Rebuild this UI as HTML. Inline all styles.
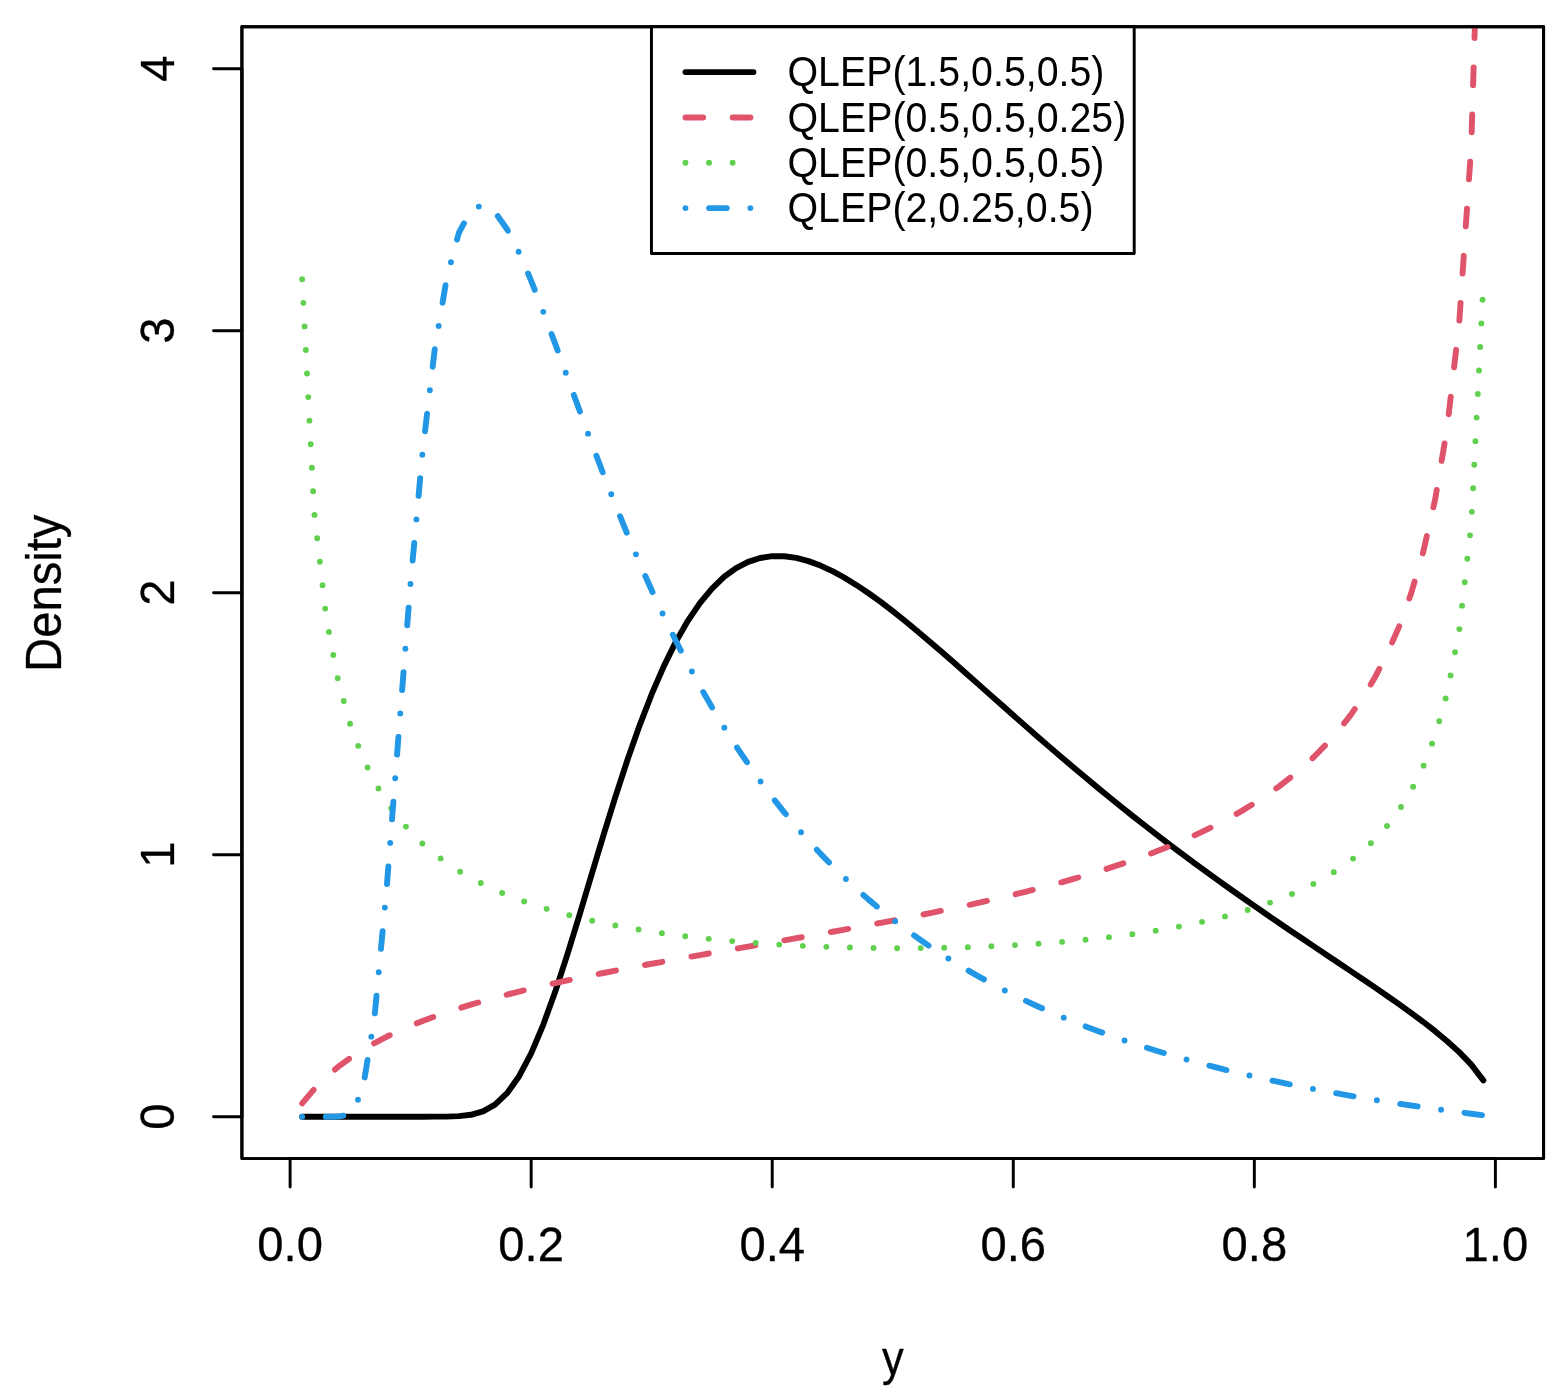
<!DOCTYPE html>
<html lang="en">
<head>
<meta charset="utf-8">
<title>QLEP density</title>
<style>
html,body{margin:0;padding:0;background:#fff;}
body{width:1568px;height:1392px;overflow:hidden;font-family:"Liberation Sans",Arial,Helvetica,sans-serif;}
svg{display:block;}
</style>
</head>
<body>
<svg width="1568" height="1392" viewBox="0 0 1568 1392">
<rect width="1568" height="1392" fill="#fff"/>
<defs><clipPath id="pc"><rect x="241.90" y="26.75" width="1301.70" height="1131.85"/></clipPath></defs>
<polyline clip-path="url(#pc)" points="302.16,1116.68 314.22,1116.68 326.27,1116.68 338.32,1116.68 350.38,1116.68 362.43,1116.68 374.48,1116.68 386.53,1116.68 398.59,1116.68 410.64,1116.68 422.69,1116.68 434.74,1116.67 446.80,1116.58 458.85,1116.17 470.90,1114.80 482.96,1111.41 495.01,1104.65 507.06,1093.22 519.11,1076.22 531.17,1053.32 543.22,1024.82 555.27,991.55 567.32,954.65 579.38,915.43 591.43,875.20 603.48,835.16 615.54,796.33 627.59,759.52 639.64,725.33 651.69,694.19 663.75,666.34 675.80,641.88 687.85,620.83 699.91,603.10 711.96,588.54 724.01,576.96 736.06,568.17 748.12,561.92 760.17,557.99 772.22,556.17 784.27,556.21 796.33,557.92 808.38,561.11 820.43,565.58 832.49,571.18 844.54,577.75 856.59,585.15 868.64,593.26 880.70,601.96 892.75,611.16 904.80,620.77 916.86,630.70 928.91,640.90 940.96,651.29 953.01,661.83 965.07,672.47 977.12,683.16 989.17,693.88 1001.22,704.58 1013.28,715.26 1025.33,725.88 1037.38,736.43 1049.44,746.89 1061.49,757.24 1073.54,767.49 1085.59,777.61 1097.65,787.61 1109.70,797.49 1121.75,807.22 1133.81,816.83 1145.86,826.30 1157.91,835.64 1169.96,844.84 1182.02,853.92 1194.07,862.87 1206.12,871.70 1218.17,880.41 1230.23,889.02 1242.28,897.53 1254.33,905.93 1266.39,914.26 1278.44,922.51 1290.49,930.69 1302.54,938.82 1314.60,946.91 1326.65,954.97 1338.70,963.03 1350.76,971.10 1362.81,979.22 1374.86,987.41 1386.91,995.70 1398.97,1004.15 1411.02,1012.82 1423.07,1021.79 1435.12,1031.19 1447.18,1041.21 1459.23,1052.16 1471.28,1064.67 1483.34,1080.36" fill="none" stroke="#000000" stroke-width="5.90" stroke-linecap="round" stroke-linejoin="round"/>
<g fill="none" stroke="#000" stroke-width="2.95" stroke-linecap="round" stroke-linejoin="round">
<path d="M290.11 1158.60H1495.39"/>
<path d="M290.11 1158.60v28.32"/>
<path d="M531.17 1158.60v28.32"/>
<path d="M772.22 1158.60v28.32"/>
<path d="M1013.28 1158.60v28.32"/>
<path d="M1254.33 1158.60v28.32"/>
<path d="M1495.39 1158.60v28.32"/>
<path d="M241.90 1116.68V68.67"/>
<path d="M241.90 1116.68h-28.32"/>
<path d="M241.90 854.68h-28.32"/>
<path d="M241.90 592.67h-28.32"/>
<path d="M241.90 330.67h-28.32"/>
<path d="M241.90 68.67h-28.32"/>
<rect x="241.90" y="26.75" width="1301.70" height="1131.85"/>
</g>
<g font-family="'Liberation Sans', Arial, Helvetica, sans-serif" font-size="47.21" fill="#000" stroke="#000" stroke-width="0.3" stroke-linejoin="round" text-anchor="middle">
<text x="290.11" y="1261.30">0.0</text>
<text x="531.17" y="1261.30">0.2</text>
<text x="772.22" y="1261.30">0.4</text>
<text x="1013.28" y="1261.30">0.6</text>
<text x="1254.33" y="1261.30">0.8</text>
<text x="1495.39" y="1261.30">1.0</text>
<text transform="translate(173.95 1116.68) rotate(-90) scale(1 1.02)">0</text>
<text transform="translate(173.95 854.68) rotate(-90) scale(1 1.02)">1</text>
<text transform="translate(173.95 592.67) rotate(-90) scale(1 1.02)">2</text>
<text transform="translate(173.95 330.67) rotate(-90) scale(1 1.02)">3</text>
<text transform="translate(173.95 68.67) rotate(-90) scale(1 1.02)">4</text>
<text transform="translate(892.75 1374.50) scale(0.92 1)">y</text>
<text transform="translate(60.70 593.27) rotate(-90) scale(1 1.04)">Density</text>
</g>
<polyline clip-path="url(#pc)" points="302.16,1103.32 314.22,1089.02 326.27,1076.96 338.32,1066.70 350.38,1057.82 362.43,1050.00 374.48,1043.04 386.53,1036.76 398.59,1031.05 410.64,1025.81 422.69,1020.98 434.74,1016.49 446.80,1012.30 458.85,1008.36 470.90,1004.65 482.96,1001.14 495.01,997.80 507.06,994.61 519.11,991.56 531.17,988.63 543.22,985.82 555.27,983.09 567.32,980.46 579.38,977.90 591.43,975.41 603.48,972.99 615.54,970.61 627.59,968.29 639.64,966.01 651.69,963.76 663.75,961.55 675.80,959.36 687.85,957.20 699.91,955.06 711.96,952.93 724.01,950.82 736.06,948.71 748.12,946.61 760.17,944.51 772.22,942.40 784.27,940.29 796.33,938.18 808.38,936.05 820.43,933.90 832.49,931.74 844.54,929.56 856.59,927.35 868.64,925.12 880.70,922.85 892.75,920.55 904.80,918.22 916.86,915.84 928.91,913.41 940.96,910.93 953.01,908.40 965.07,905.81 977.12,903.16 989.17,900.43 1001.22,897.64 1013.28,894.76 1025.33,891.79 1037.38,888.73 1049.44,885.57 1061.49,882.29 1073.54,878.90 1085.59,875.38 1097.65,871.72 1109.70,867.90 1121.75,863.92 1133.81,859.76 1145.86,855.41 1157.91,850.83 1169.96,846.03 1182.02,840.96 1194.07,835.60 1206.12,829.93 1218.17,823.91 1230.23,817.49 1242.28,810.63 1254.33,803.28 1266.39,795.36 1278.44,786.80 1290.49,777.51 1302.54,767.37 1314.60,756.23 1326.65,743.93 1338.70,730.25 1350.76,714.89 1362.81,697.48 1374.86,677.52 1386.91,654.31 1398.97,626.87 1411.02,593.73 1423.07,552.59 1435.12,499.62 1447.18,427.80 1459.23,322.45 1471.28,145.53 1483.34,-254.39" fill="none" stroke="#DF536B" stroke-width="5.90" stroke-linecap="round" stroke-linejoin="round" stroke-dasharray="17.691 29.484" stroke-dashoffset="-0.000"/>
<path clip-path="url(#pc)" d="M299.21 279.31a2.95 2.95 0 1 0 5.90 0a2.95 2.95 0 1 0 -5.90 0zM300.43 302.87a2.95 2.95 0 1 0 5.90 0a2.95 2.95 0 1 0 -5.90 0zM301.65 326.42a2.95 2.95 0 1 0 5.90 0a2.95 2.95 0 1 0 -5.90 0zM302.87 349.98a2.95 2.95 0 1 0 5.90 0a2.95 2.95 0 1 0 -5.90 0zM304.09 373.53a2.95 2.95 0 1 0 5.90 0a2.95 2.95 0 1 0 -5.90 0zM305.31 397.09a2.95 2.95 0 1 0 5.90 0a2.95 2.95 0 1 0 -5.90 0zM306.53 420.65a2.95 2.95 0 1 0 5.90 0a2.95 2.95 0 1 0 -5.90 0zM307.74 444.20a2.95 2.95 0 1 0 5.90 0a2.95 2.95 0 1 0 -5.90 0zM308.96 467.76a2.95 2.95 0 1 0 5.90 0a2.95 2.95 0 1 0 -5.90 0zM310.18 491.31a2.95 2.95 0 1 0 5.90 0a2.95 2.95 0 1 0 -5.90 0zM311.56 514.86a2.95 2.95 0 1 0 5.90 0a2.95 2.95 0 1 0 -5.90 0zM314.23 538.29a2.95 2.95 0 1 0 5.90 0a2.95 2.95 0 1 0 -5.90 0zM316.91 561.73a2.95 2.95 0 1 0 5.90 0a2.95 2.95 0 1 0 -5.90 0zM319.58 585.16a2.95 2.95 0 1 0 5.90 0a2.95 2.95 0 1 0 -5.90 0zM322.25 608.60a2.95 2.95 0 1 0 5.90 0a2.95 2.95 0 1 0 -5.90 0zM325.96 631.88a2.95 2.95 0 1 0 5.90 0a2.95 2.95 0 1 0 -5.90 0zM330.36 655.05a2.95 2.95 0 1 0 5.90 0a2.95 2.95 0 1 0 -5.90 0zM334.75 678.23a2.95 2.95 0 1 0 5.90 0a2.95 2.95 0 1 0 -5.90 0zM340.79 701.02a2.95 2.95 0 1 0 5.90 0a2.95 2.95 0 1 0 -5.90 0zM347.09 723.75a2.95 2.95 0 1 0 5.90 0a2.95 2.95 0 1 0 -5.90 0zM355.29 745.86a2.95 2.95 0 1 0 5.90 0a2.95 2.95 0 1 0 -5.90 0zM364.59 767.51a2.95 2.95 0 1 0 5.90 0a2.95 2.95 0 1 0 -5.90 0zM375.51 788.39a2.95 2.95 0 1 0 5.90 0a2.95 2.95 0 1 0 -5.90 0zM388.30 808.18a2.95 2.95 0 1 0 5.90 0a2.95 2.95 0 1 0 -5.90 0zM402.99 826.61a2.95 2.95 0 1 0 5.90 0a2.95 2.95 0 1 0 -5.90 0zM419.43 843.50a2.95 2.95 0 1 0 5.90 0a2.95 2.95 0 1 0 -5.90 0zM437.70 858.41a2.95 2.95 0 1 0 5.90 0a2.95 2.95 0 1 0 -5.90 0zM457.21 871.64a2.95 2.95 0 1 0 5.90 0a2.95 2.95 0 1 0 -5.90 0zM477.84 883.07a2.95 2.95 0 1 0 5.90 0a2.95 2.95 0 1 0 -5.90 0zM499.25 892.94a2.95 2.95 0 1 0 5.90 0a2.95 2.95 0 1 0 -5.90 0zM521.24 901.46a2.95 2.95 0 1 0 5.90 0a2.95 2.95 0 1 0 -5.90 0zM543.65 908.83a2.95 2.95 0 1 0 5.90 0a2.95 2.95 0 1 0 -5.90 0zM566.36 915.18a2.95 2.95 0 1 0 5.90 0a2.95 2.95 0 1 0 -5.90 0zM589.29 920.68a2.95 2.95 0 1 0 5.90 0a2.95 2.95 0 1 0 -5.90 0zM612.40 925.44a2.95 2.95 0 1 0 5.90 0a2.95 2.95 0 1 0 -5.90 0zM635.62 929.56a2.95 2.95 0 1 0 5.90 0a2.95 2.95 0 1 0 -5.90 0zM658.94 933.13a2.95 2.95 0 1 0 5.90 0a2.95 2.95 0 1 0 -5.90 0zM682.32 936.21a2.95 2.95 0 1 0 5.90 0a2.95 2.95 0 1 0 -5.90 0zM705.76 938.85a2.95 2.95 0 1 0 5.90 0a2.95 2.95 0 1 0 -5.90 0zM729.24 941.11a2.95 2.95 0 1 0 5.90 0a2.95 2.95 0 1 0 -5.90 0zM752.75 943.01a2.95 2.95 0 1 0 5.90 0a2.95 2.95 0 1 0 -5.90 0zM776.28 944.59a2.95 2.95 0 1 0 5.90 0a2.95 2.95 0 1 0 -5.90 0zM799.84 945.86a2.95 2.95 0 1 0 5.90 0a2.95 2.95 0 1 0 -5.90 0zM823.40 946.84a2.95 2.95 0 1 0 5.90 0a2.95 2.95 0 1 0 -5.90 0zM846.98 947.55a2.95 2.95 0 1 0 5.90 0a2.95 2.95 0 1 0 -5.90 0zM870.56 948.00a2.95 2.95 0 1 0 5.90 0a2.95 2.95 0 1 0 -5.90 0zM894.15 948.18a2.95 2.95 0 1 0 5.90 0a2.95 2.95 0 1 0 -5.90 0zM917.74 948.10a2.95 2.95 0 1 0 5.90 0a2.95 2.95 0 1 0 -5.90 0zM941.32 947.77a2.95 2.95 0 1 0 5.90 0a2.95 2.95 0 1 0 -5.90 0zM964.90 947.17a2.95 2.95 0 1 0 5.90 0a2.95 2.95 0 1 0 -5.90 0zM988.47 946.29a2.95 2.95 0 1 0 5.90 0a2.95 2.95 0 1 0 -5.90 0zM1012.03 945.12a2.95 2.95 0 1 0 5.90 0a2.95 2.95 0 1 0 -5.90 0zM1035.57 943.65a2.95 2.95 0 1 0 5.90 0a2.95 2.95 0 1 0 -5.90 0zM1059.09 941.85a2.95 2.95 0 1 0 5.90 0a2.95 2.95 0 1 0 -5.90 0zM1082.58 939.69a2.95 2.95 0 1 0 5.90 0a2.95 2.95 0 1 0 -5.90 0zM1106.03 937.14a2.95 2.95 0 1 0 5.90 0a2.95 2.95 0 1 0 -5.90 0zM1129.42 934.14a2.95 2.95 0 1 0 5.90 0a2.95 2.95 0 1 0 -5.90 0zM1152.75 930.64a2.95 2.95 0 1 0 5.90 0a2.95 2.95 0 1 0 -5.90 0zM1175.98 926.58a2.95 2.95 0 1 0 5.90 0a2.95 2.95 0 1 0 -5.90 0zM1199.09 921.86a2.95 2.95 0 1 0 5.90 0a2.95 2.95 0 1 0 -5.90 0zM1222.03 916.39a2.95 2.95 0 1 0 5.90 0a2.95 2.95 0 1 0 -5.90 0zM1244.74 910.02a2.95 2.95 0 1 0 5.90 0a2.95 2.95 0 1 0 -5.90 0zM1267.13 902.62a2.95 2.95 0 1 0 5.90 0a2.95 2.95 0 1 0 -5.90 0zM1289.08 893.99a2.95 2.95 0 1 0 5.90 0a2.95 2.95 0 1 0 -5.90 0zM1310.40 883.92a2.95 2.95 0 1 0 5.90 0a2.95 2.95 0 1 0 -5.90 0zM1330.83 872.14a2.95 2.95 0 1 0 5.90 0a2.95 2.95 0 1 0 -5.90 0zM1350.13 858.61a2.95 2.95 0 1 0 5.90 0a2.95 2.95 0 1 0 -5.90 0zM1367.92 843.14a2.95 2.95 0 1 0 5.90 0a2.95 2.95 0 1 0 -5.90 0zM1384.07 825.97a2.95 2.95 0 1 0 5.90 0a2.95 2.95 0 1 0 -5.90 0zM1398.06 807.00a2.95 2.95 0 1 0 5.90 0a2.95 2.95 0 1 0 -5.90 0zM1410.18 786.78a2.95 2.95 0 1 0 5.90 0a2.95 2.95 0 1 0 -5.90 0zM1420.62 765.63a2.95 2.95 0 1 0 5.90 0a2.95 2.95 0 1 0 -5.90 0zM1429.11 743.63a2.95 2.95 0 1 0 5.90 0a2.95 2.95 0 1 0 -5.90 0zM1436.28 721.18a2.95 2.95 0 1 0 5.90 0a2.95 2.95 0 1 0 -5.90 0zM1442.71 698.49a2.95 2.95 0 1 0 5.90 0a2.95 2.95 0 1 0 -5.90 0zM1447.62 675.43a2.95 2.95 0 1 0 5.90 0a2.95 2.95 0 1 0 -5.90 0zM1452.07 652.27a2.95 2.95 0 1 0 5.90 0a2.95 2.95 0 1 0 -5.90 0zM1456.42 629.09a2.95 2.95 0 1 0 5.90 0a2.95 2.95 0 1 0 -5.90 0zM1459.08 605.65a2.95 2.95 0 1 0 5.90 0a2.95 2.95 0 1 0 -5.90 0zM1461.75 582.22a2.95 2.95 0 1 0 5.90 0a2.95 2.95 0 1 0 -5.90 0zM1464.41 558.78a2.95 2.95 0 1 0 5.90 0a2.95 2.95 0 1 0 -5.90 0zM1467.08 535.34a2.95 2.95 0 1 0 5.90 0a2.95 2.95 0 1 0 -5.90 0zM1468.96 511.84a2.95 2.95 0 1 0 5.90 0a2.95 2.95 0 1 0 -5.90 0zM1470.14 488.28a2.95 2.95 0 1 0 5.90 0a2.95 2.95 0 1 0 -5.90 0zM1471.32 464.73a2.95 2.95 0 1 0 5.90 0a2.95 2.95 0 1 0 -5.90 0zM1472.49 441.17a2.95 2.95 0 1 0 5.90 0a2.95 2.95 0 1 0 -5.90 0zM1473.67 417.61a2.95 2.95 0 1 0 5.90 0a2.95 2.95 0 1 0 -5.90 0zM1474.85 394.05a2.95 2.95 0 1 0 5.90 0a2.95 2.95 0 1 0 -5.90 0zM1476.03 370.49a2.95 2.95 0 1 0 5.90 0a2.95 2.95 0 1 0 -5.90 0zM1477.21 346.94a2.95 2.95 0 1 0 5.90 0a2.95 2.95 0 1 0 -5.90 0zM1478.39 323.38a2.95 2.95 0 1 0 5.90 0a2.95 2.95 0 1 0 -5.90 0zM1479.57 299.82a2.95 2.95 0 1 0 5.90 0a2.95 2.95 0 1 0 -5.90 0z" fill="#61D04F"/>
<path clip-path="url(#pc)" d="M299.21 1116.68a2.95 2.95 0 1 0 5.90 0a2.95 2.95 0 1 0 -5.90 0zM355.04 1099.77a2.95 2.95 0 1 0 5.90 0a2.95 2.95 0 1 0 -5.90 0zM368.37 1036.67a2.95 2.95 0 1 0 5.90 0a2.95 2.95 0 1 0 -5.90 0zM375.79 972.21a2.95 2.95 0 1 0 5.90 0a2.95 2.95 0 1 0 -5.90 0zM381.90 907.59a2.95 2.95 0 1 0 5.90 0a2.95 2.95 0 1 0 -5.90 0zM387.24 842.90a2.95 2.95 0 1 0 5.90 0a2.95 2.95 0 1 0 -5.90 0zM392.27 778.19a2.95 2.95 0 1 0 5.90 0a2.95 2.95 0 1 0 -5.90 0zM397.33 713.47a2.95 2.95 0 1 0 5.90 0a2.95 2.95 0 1 0 -5.90 0zM402.43 648.76a2.95 2.95 0 1 0 5.90 0a2.95 2.95 0 1 0 -5.90 0zM407.54 584.05a2.95 2.95 0 1 0 5.90 0a2.95 2.95 0 1 0 -5.90 0zM413.45 519.41a2.95 2.95 0 1 0 5.90 0a2.95 2.95 0 1 0 -5.90 0zM419.38 454.77a2.95 2.95 0 1 0 5.90 0a2.95 2.95 0 1 0 -5.90 0zM426.92 390.30a2.95 2.95 0 1 0 5.90 0a2.95 2.95 0 1 0 -5.90 0zM435.70 326.01a2.95 2.95 0 1 0 5.90 0a2.95 2.95 0 1 0 -5.90 0zM447.98 262.32a2.95 2.95 0 1 0 5.90 0a2.95 2.95 0 1 0 -5.90 0zM475.90 206.58a2.95 2.95 0 1 0 5.90 0a2.95 2.95 0 1 0 -5.90 0zM515.67 251.81a2.95 2.95 0 1 0 5.90 0a2.95 2.95 0 1 0 -5.90 0zM540.34 311.83a2.95 2.95 0 1 0 5.90 0a2.95 2.95 0 1 0 -5.90 0zM562.80 372.73a2.95 2.95 0 1 0 5.90 0a2.95 2.95 0 1 0 -5.90 0zM585.16 433.67a2.95 2.95 0 1 0 5.90 0a2.95 2.95 0 1 0 -5.90 0zM608.32 494.31a2.95 2.95 0 1 0 5.90 0a2.95 2.95 0 1 0 -5.90 0zM632.95 554.36a2.95 2.95 0 1 0 5.90 0a2.95 2.95 0 1 0 -5.90 0zM659.59 613.55a2.95 2.95 0 1 0 5.90 0a2.95 2.95 0 1 0 -5.90 0zM688.92 671.45a2.95 2.95 0 1 0 5.90 0a2.95 2.95 0 1 0 -5.90 0zM721.37 727.65a2.95 2.95 0 1 0 5.90 0a2.95 2.95 0 1 0 -5.90 0zM757.61 781.48a2.95 2.95 0 1 0 5.90 0a2.95 2.95 0 1 0 -5.90 0zM798.10 832.19a2.95 2.95 0 1 0 5.90 0a2.95 2.95 0 1 0 -5.90 0zM842.97 879.06a2.95 2.95 0 1 0 5.90 0a2.95 2.95 0 1 0 -5.90 0zM892.24 921.29a2.95 2.95 0 1 0 5.90 0a2.95 2.95 0 1 0 -5.90 0zM945.43 958.45a2.95 2.95 0 1 0 5.90 0a2.95 2.95 0 1 0 -5.90 0zM1001.86 990.47a2.95 2.95 0 1 0 5.90 0a2.95 2.95 0 1 0 -5.90 0zM1060.79 1017.63a2.95 2.95 0 1 0 5.90 0a2.95 2.95 0 1 0 -5.90 0zM1121.55 1040.44a2.95 2.95 0 1 0 5.90 0a2.95 2.95 0 1 0 -5.90 0zM1183.59 1059.53a2.95 2.95 0 1 0 5.90 0a2.95 2.95 0 1 0 -5.90 0zM1246.49 1075.50a2.95 2.95 0 1 0 5.90 0a2.95 2.95 0 1 0 -5.90 0zM1310.00 1088.91a2.95 2.95 0 1 0 5.90 0a2.95 2.95 0 1 0 -5.90 0zM1373.92 1100.19a2.95 2.95 0 1 0 5.90 0a2.95 2.95 0 1 0 -5.90 0zM1438.13 1109.74a2.95 2.95 0 1 0 5.90 0a2.95 2.95 0 1 0 -5.90 0z" fill="#2297E6"/>
<polyline clip-path="url(#pc)" points="302.16,1116.68 314.22,1116.68 326.27,1116.68 338.32,1116.66 350.38,1114.40 362.43,1091.26 374.48,1017.27 386.53,889.85 398.59,734.93 410.64,582.15 422.69,450.87 434.74,349.21 446.80,277.66 458.85,232.90 470.90,210.19 482.96,204.72 495.01,212.23 507.06,229.19 519.11,252.77 531.17,280.80 543.22,311.63 555.27,344.01 567.32,377.05 579.38,410.09 591.43,442.65 603.48,474.42 615.54,505.18 627.59,534.79 639.64,563.17 651.69,590.29 663.75,616.12 675.80,640.71 687.85,664.06 699.91,686.22 711.96,707.24 724.01,727.17 736.06,746.07 748.12,763.98 760.17,780.96 772.22,797.05 784.27,812.32 796.33,826.80 808.38,840.55 820.43,853.60 832.49,865.99 844.54,877.77 856.59,888.97 868.64,899.63 880.70,909.77 892.75,919.43 904.80,928.63 916.86,937.40 928.91,945.77 940.96,953.76 953.01,961.38 965.07,968.67 977.12,975.63 989.17,982.29 1001.22,988.66 1013.28,994.76 1025.33,1000.60 1037.38,1006.20 1049.44,1011.56 1061.49,1016.71 1073.54,1021.65 1085.59,1026.39 1097.65,1030.94 1109.70,1035.32 1121.75,1039.52 1133.81,1043.57 1145.86,1047.46 1157.91,1051.20 1169.96,1054.80 1182.02,1058.28 1194.07,1061.62 1206.12,1064.84 1218.17,1067.95 1230.23,1070.95 1242.28,1073.84 1254.33,1076.63 1266.39,1079.33 1278.44,1081.93 1290.49,1084.45 1302.54,1086.88 1314.60,1089.23 1326.65,1091.50 1338.70,1093.70 1350.76,1095.82 1362.81,1097.88 1374.86,1099.87 1386.91,1101.80 1398.97,1103.67 1411.02,1105.48 1423.07,1107.23 1435.12,1108.93 1447.18,1110.57 1459.23,1112.17 1471.28,1113.72 1483.34,1115.22" fill="none" stroke="#2297E6" stroke-width="5.90" stroke-linecap="round" stroke-linejoin="round" stroke-dasharray="17.703 47.208" stroke-dashoffset="-23.604"/>
<rect x="241.90" y="26.75" width="1301.70" height="1131.85" fill="none" stroke="#000" stroke-width="2.95" stroke-linejoin="round"/>
<rect x="651.45" y="26.75" width="482.75" height="226.70" fill="#fff" stroke="#000" stroke-width="2.95" stroke-linejoin="round"/>
<polyline points="685.46,72.09 753.47,72.09" fill="none" stroke="#000000" stroke-width="5.90" stroke-linecap="round" stroke-linejoin="round"/>
<polyline points="685.46,117.43 753.47,117.43" fill="none" stroke="#DF536B" stroke-width="5.90" stroke-linecap="round" stroke-linejoin="round" stroke-dasharray="17.703 29.505" stroke-dashoffset="-0.000"/>
<path d="M682.50 162.77a2.95 2.95 0 1 0 5.90 0a2.95 2.95 0 1 0 -5.90 0zM706.11 162.77a2.95 2.95 0 1 0 5.90 0a2.95 2.95 0 1 0 -5.90 0zM729.71 162.77a2.95 2.95 0 1 0 5.90 0a2.95 2.95 0 1 0 -5.90 0z" fill="#61D04F"/>
<path d="M682.50 208.11a2.95 2.95 0 1 0 5.90 0a2.95 2.95 0 1 0 -5.90 0zM747.42 208.11a2.95 2.95 0 1 0 5.90 0a2.95 2.95 0 1 0 -5.90 0z" fill="#2297E6"/>
<polyline points="685.46,208.11 753.47,208.11" fill="none" stroke="#2297E6" stroke-width="5.90" stroke-linecap="round" stroke-linejoin="round" stroke-dasharray="17.703 47.208" stroke-dashoffset="-23.604"/>
<g font-family="'Liberation Sans', Arial, Helvetica, sans-serif" font-size="39.34" fill="#000">
<text transform="translate(787.47 86.29) scale(1 1.075)">QLEP(1.5,0.5,0.5)</text>
<text transform="translate(787.47 131.63) scale(1 1.075)">QLEP(0.5,0.5,0.25)</text>
<text transform="translate(787.47 176.97) scale(1 1.075)">QLEP(0.5,0.5,0.5)</text>
<text transform="translate(787.47 222.31) scale(1 1.075)">QLEP(2,0.25,0.5)</text>
</g>
</svg>
</body>
</html>
